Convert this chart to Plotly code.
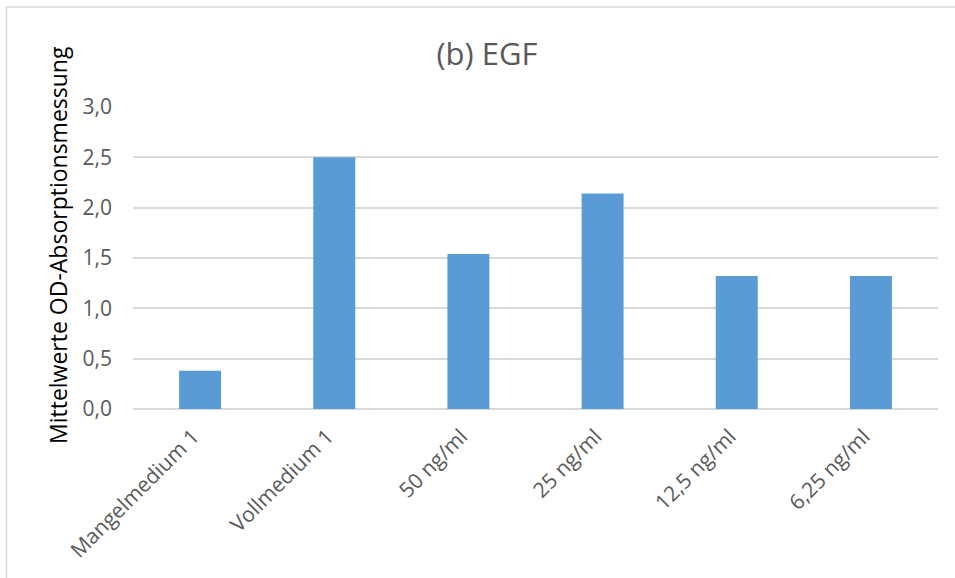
import plotly.graph_objects as go

# Mean OD absorbance per culture condition
categories = ["Mangelmedium 1", "Vollmedium 1", "50 ng/ml", "25 ng/ml", "12,5 ng/ml", "6,25 ng/ml"]
values = [0.38, 2.50, 1.54, 2.14, 1.32, 1.32]
y_ticks = [0.0, 0.5, 1.0, 1.5, 2.0, 2.5, 3.0]
y_tick_labels = ["0,0", "0,5", "1,0", "1,5", "2,0", "2,5", "3,0"]

W, H = 955, 578
ML, MR, MT, MB = 133, 17, 107, 169

fig = go.Figure(
    go.Bar(
        x=categories,
        y=values,
        marker=dict(color="#5B9BD5", line=dict(width=0)),
        hoverinfo="x+y",
    )
)

grid = "#D9D9D9"
tick_font = dict(family="Open Sans", size=21, color="#595959")

fig.update_layout(
    width=W,
    height=H,
    margin=dict(l=ML, r=MR, t=MT, b=MB),
    paper_bgcolor="white",
    plot_bgcolor="white",
    bargap=0.687,
    showlegend=False,
    title=dict(
        text="(b) EGF",
        font=dict(family="Open Sans", size=31, color="#595959"),
        xref="paper",
        x=(487 - ML) / (W - ML - MR),
        xanchor="center",
        yref="container",
        y=1 - 54 / H,
        yanchor="middle",
    ),
    xaxis=dict(
        tickangle=-45,
        tickfont=dict(family="Open Sans", size=21, color="#595959"),
        showgrid=False,
        showline=False,
        ticks="",
        ticklabelshift=-7,
        ticklabelstandoff=10,
    ),
    yaxis=dict(
        range=[0, 3],
        tickvals=y_ticks,
        ticktext=y_tick_labels,
        tickfont=tick_font,
        showgrid=True,
        gridcolor=grid,
        gridwidth=1.5,
        zeroline=True,
        zerolinecolor=grid,
        zerolinewidth=1.5,
        showline=False,
        ticks="",
        ticklabelstandoff=20,
    ),
    annotations=[
        dict(
            text="Mittelwerte OD-Absorptionsmessung",
            textangle=-90,
            font=dict(family="Open Sans", size=23, color="black"),
            xref="paper",
            yref="paper",
            x=(58 - ML) / (W - ML - MR),
            y=(H - MB - 245) / (H - MT - MB),
            xanchor="center",
            yanchor="middle",
            showarrow=False,
        )
    ],
    shapes=[
        dict(
            type="rect",
            xref="paper",
            yref="paper",
            x0=(6.5 - ML) / (W - ML - MR),
            x1=(W + 20 - ML) / (W - ML - MR),
            y0=(H - MB - (H + 20)) / (H - MT - MB),
            y1=(H - MB - 7) / (H - MT - MB),
            line=dict(color=grid, width=1.5),
            layer="below",
        )
    ],
)

fig.write_html("out.html")
